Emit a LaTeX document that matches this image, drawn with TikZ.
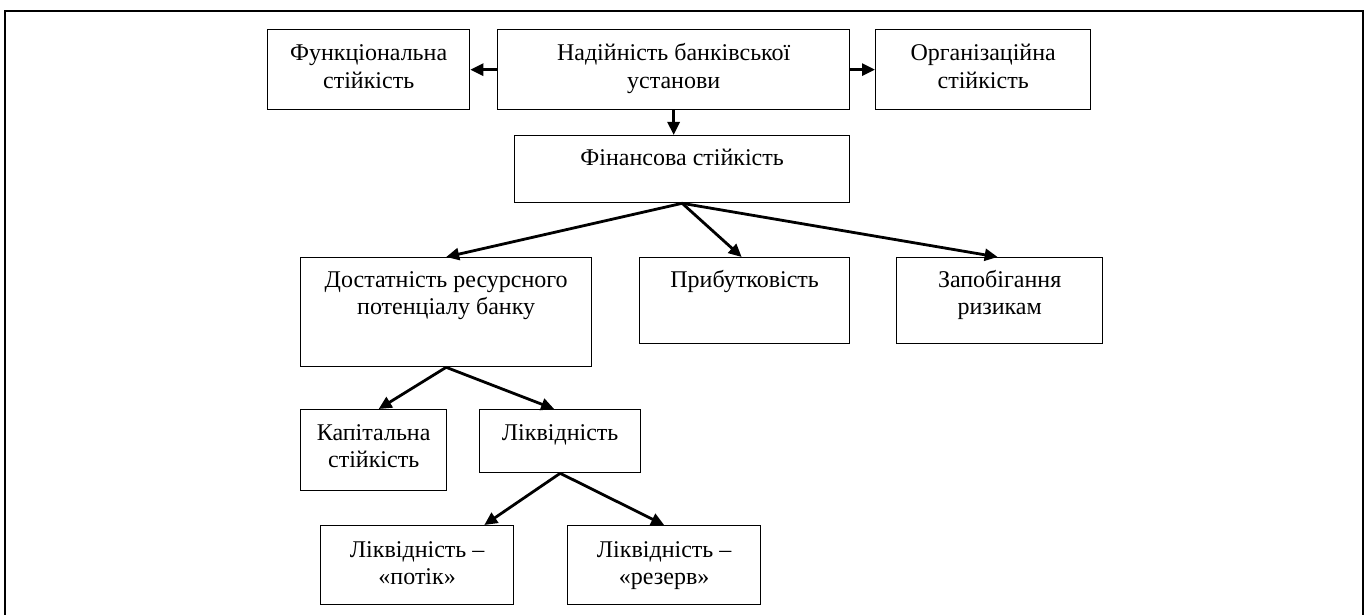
\documentclass[tikz,border=0pt]{standalone}
\usepackage{fontspec}
\setmainfont{Liberation Serif}
\usetikzlibrary{calc,arrows.meta}

\tikzset{
  box/.style={draw, line width=1.3pt, rectangle, inner sep=0pt, anchor=north west},
  lbl/.style={anchor=base, inner sep=0pt, font=\fontsize{24}{27.5}\selectfont},
  arr/.style={line width=2.8pt, -{Triangle[length=13pt,width=12pt]}},
  frame/.style={line width=2.8pt}
}
% centred text block whose baseline is the first line
\newcommand{\boxlines}[1]{\parbox[t]{320pt}{\centering #1}}

\begin{document}
\begin{tikzpicture}[x=1pt,y=-1pt]
  \useasboundingbox (0,0) rectangle (1367,615);

  % open frame around the scheme
  \draw[frame] (5,620) -- (5,11) -- (1363,11) -- (1363,620);

  % boxes
  \node[box, minimum width=202pt, minimum height=80pt]  (funk)  at (267,29)  {};
  \node[box, minimum width=352pt, minimum height=80pt]  (nad)   at (497,29)  {};
  \node[box, minimum width=215pt, minimum height=80pt]  (org)   at (875,29)  {};
  \node[box, minimum width=335pt, minimum height=67pt]  (fin)   at (514,135) {};
  \node[box, minimum width=291pt, minimum height=109pt] (dost)  at (300,257) {};
  \node[box, minimum width=210pt, minimum height=86pt]  (pryb)  at (639,257) {};
  \node[box, minimum width=206pt, minimum height=86pt]  (zap)   at (896,257) {};
  \node[box, minimum width=146pt, minimum height=81pt]  (kap)   at (300,409) {};
  \node[box, minimum width=161pt, minimum height=63pt]  (likv)  at (479,409) {};
  \node[box, minimum width=193pt, minimum height=79pt]  (potik) at (320,525) {};
  \node[box, minimum width=193pt, minimum height=79pt]  (rez)   at (567,525) {};

  % texts, set in the upper part of each box
  \node[lbl] (funk-t)  at ($(funk.north)+(0,32)$)  {\boxlines{Функціональна\\стійкість}};
  \node[lbl] (nad-t)   at ($(nad.north)+(0,32)$)   {\boxlines{Надійність банківської\\установи}};
  \node[lbl] (org-t)   at ($(org.north)+(0,32)$)   {\boxlines{Організаційна\\стійкість}};
  \node[lbl] (fin-t)   at ($(fin.north)+(0,30)$)   {\boxlines{Фінансова стійкість}};
  \node[lbl] (dost-t)  at ($(dost.north)+(0,30)$)  {\boxlines{Достатність ресурсного\\потенціалу банку}};
  \node[lbl] (pryb-t)  at ($(pryb.north)+(0,30)$)  {\boxlines{Прибутковість}};
  \node[lbl] (zap-t)   at ($(zap.north)+(0,30)$)   {\boxlines{Запобігання\\ризикам}};
  \node[lbl] (kap-t)   at ($(kap.north)+(0,31)$)   {\boxlines{Капітальна\\стійкість}};
  \node[lbl] (likv-t)  at ($(likv.north)+(0,31)$)  {\boxlines{Ліквідність}};
  \node[lbl] (potik-t) at ($(potik.north)+(0,32)$) {\boxlines{Ліквідність –\\«потік»}};
  \node[lbl] (rez-t)   at ($(rez.north)+(0,32)$)   {\boxlines{Ліквідність –\\«резерв»}};

  % connectors
  \draw[arr] (nad.west) -- (funk.east);
  \draw[arr] (nad.east) -- (org.west);
  \draw[arr] (nad.south) -- (nad.south |- fin.north);
  \draw[arr] (fin.south) -- (dost.north);
  \draw[arr] (fin.south) -- ([xshift=-3pt]pryb.north);
  \draw[arr] (fin.south) -- ([xshift=-2pt]zap.north);
  \draw[arr] (dost.south) -- ([xshift=5pt]kap.north);
  \draw[arr] (dost.south) -- ([xshift=-6pt]likv.north);
  \draw[arr] (likv.south) -- ([xshift=-30pt]potik.north east);
  \draw[arr] (likv.south) -- (rez.north);
\end{tikzpicture}
\end{document}
